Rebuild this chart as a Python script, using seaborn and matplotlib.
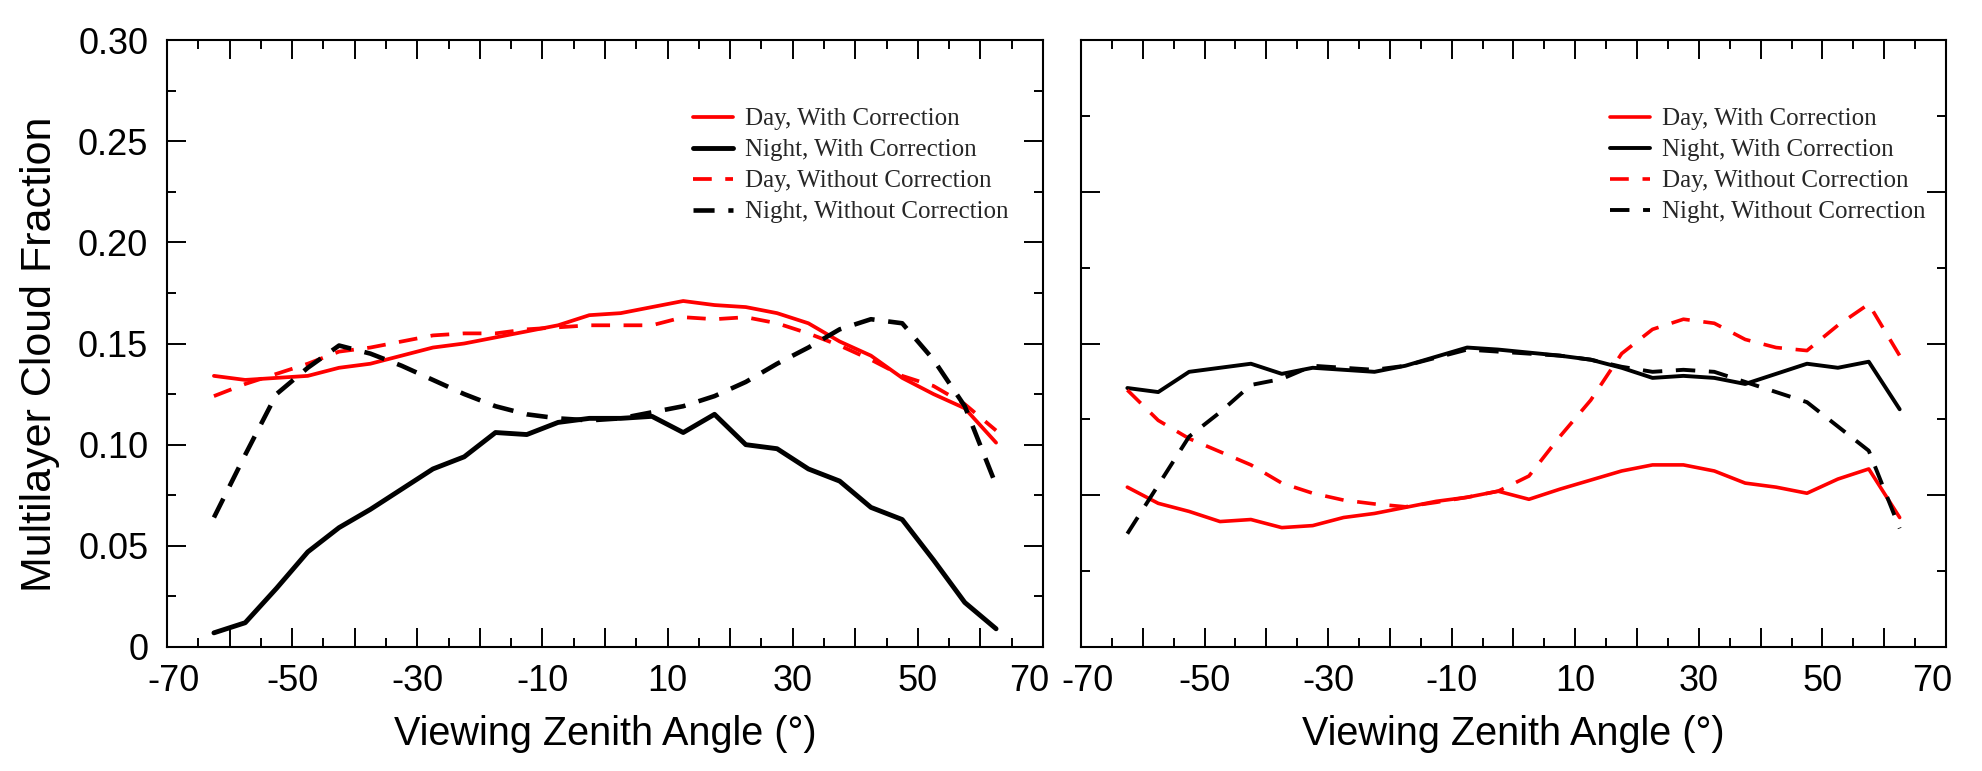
import matplotlib
matplotlib.use("Agg")
import matplotlib.pyplot as plt
import matplotlib.transforms as mtransforms
import numpy as np
import pandas as pd
import seaborn as sns
from matplotlib.ticker import MultipleLocator

sns.set_theme(style="ticks")
plt.rcParams['font.family'] = ['Liberation Sans', 'DejaVu Sans']

# ---------------- data ----------------
vza = [-62.5, -57.5, -52.5, -47.5, -42.5, -37.5, -32.5, -27.5, -22.5, -17.5,
       -12.5, -7.5, -2.5, 2.5, 7.5, 12.5, 17.5, 22.5, 27.5, 32.5,
       37.5, 42.5, 47.5, 52.5, 57.5, 62.5]

series_labels = ["Day, With Correction", "Night, With Correction",
                 "Day, Without Correction", "Night, Without Correction"]

# left panel
left_day_with = [0.134, 0.132, 0.133, 0.134, 0.138, 0.140, 0.144, 0.148, 0.150, 0.153,
                 0.156, 0.159, 0.164, 0.165, 0.168, 0.171, 0.169, 0.168, 0.165, 0.160,
                 0.151, 0.144, 0.133, 0.125, 0.118, 0.101]
left_night_with = [0.007, 0.012, 0.029, 0.047, 0.059, 0.068, 0.078, 0.088, 0.094, 0.106,
                   0.105, 0.111, 0.113, 0.113, 0.114, 0.106, 0.115, 0.100, 0.098, 0.088,
                   0.082, 0.069, 0.063, 0.043, 0.022, 0.009]
left_day_without = [0.124, 0.130, 0.135, 0.140, 0.146, 0.148, 0.151, 0.154, 0.155, 0.155,
                    0.157, 0.158, 0.159, 0.159, 0.159, 0.163, 0.162, 0.163, 0.160, 0.155,
                    0.149, 0.142, 0.134, 0.129, 0.120, 0.107]
left_night_without = [0.064, 0.095, 0.125, 0.138, 0.149, 0.145, 0.139, 0.132, 0.125, 0.119,
                      0.115, 0.113, 0.112, 0.113, 0.116, 0.119, 0.124, 0.131, 0.140, 0.148,
                      0.157, 0.162, 0.160, 0.142, 0.119, 0.080]

# right panel
right_day_with = [0.079, 0.071, 0.067, 0.062, 0.063, 0.059, 0.060, 0.064, 0.066, 0.069,
                  0.072, 0.074, 0.077, 0.073, 0.078, 0.0825, 0.087, 0.090, 0.090, 0.087,
                  0.081, 0.079, 0.076, 0.083, 0.088, 0.064]
right_night_with = [0.128, 0.126, 0.136, 0.138, 0.140, 0.135, 0.138, 0.137, 0.136, 0.139,
                    0.1435, 0.148, 0.147, 0.1455, 0.144, 0.142, 0.138, 0.133, 0.134, 0.133,
                    0.130, 0.135, 0.140, 0.138, 0.141, 0.1175]
right_day_without = [0.127, 0.112, 0.103, 0.0965, 0.090, 0.081, 0.076, 0.0726, 0.0707, 0.0693,
                     0.0715, 0.074, 0.077, 0.0845, 0.104, 0.122, 0.145, 0.157, 0.162, 0.160,
                     0.152, 0.148, 0.1465, 0.159, 0.1695, 0.144]
right_night_without = [0.056, 0.080, 0.104, 0.116, 0.1295, 0.1325, 0.139, 0.138, 0.137, 0.139,
                       0.143, 0.147, 0.146, 0.145, 0.144, 0.142, 0.1385, 0.136, 0.137, 0.136,
                       0.131, 0.126, 0.121, 0.109, 0.097, 0.0586]

xtick_values = [-70, -60, -50, -40, -30, -20, -10, 0, 10, 20, 30, 40, 50, 60, 70]
xtick_labels = ["-70", "", "-50", "", "-30", "", "-10", "", "10", "", "30", "", "50", "", "70"]
ytick_values_left = [0, 0.05, 0.10, 0.15, 0.20, 0.25, 0.30]
ytick_labels_left = ["0", "0.05", "0.10", "0.15", "0.20", "0.25", "0.30"]
ytick_values_right = [0, 0.075, 0.15, 0.225, 0.30]

x_label = "Viewing Zenith Angle (°)"
y_label = "Multilayer Cloud Fraction"

# ---------------- styles ----------------
colors = ["#ff0000", "#000000", "#ff0000", "#000000"]
styles_left = [("-", 2.7), ("-", 3.5), ((0, (5.0, 3.6)), 2.7), ((0, (4.6, 3.0)), 3.3)]
styles_right = [("-", 2.6), ("-", 2.8), ((0, (5.2, 3.8)), 2.6), ((0, (5.0, 3.5)), 2.8)]

W, H = 1983, 771
fig = plt.figure(figsize=(W / 100, H / 100), dpi=100)
axL = fig.add_axes([167 / W, 124 / H, 876 / W, 607 / H])
axR = fig.add_axes([1081 / W, 124 / H, 865 / W, 607 / H])

panels = [
    (axL, [left_day_with, left_night_with, left_day_without, left_night_without], styles_left, 0.600),
    (axR, [right_day_with, right_night_with, right_day_without, right_night_without], styles_right, 0.611),
]

for ax, data, styles, legx in panels:
    for vals, lab, col, (ls, lw) in zip(data, series_labels, colors, styles):
        df = pd.DataFrame({"vza": vza, "frac": vals})
        sns.lineplot(data=df, x="vza", y="frac", ax=ax, color=col, linestyle=ls,
                     linewidth=lw, label=lab, sort=False)
    ax.set_xlim(-70, 70)
    ax.set_ylim(0, 0.30)
    ax.set_xticks(xtick_values)
    ax.set_xticklabels(xtick_labels)
    ax.xaxis.set_minor_locator(MultipleLocator(5))
    ax.tick_params(which="both", direction="in", top=True, right=True,
                   width=1.4, color="black")
    ax.tick_params(which="major", length=13.5, labelsize=26, pad=12, labelcolor="black")
    ax.tick_params(axis="y", which="major", pad=13.5)
    ax.tick_params(which="minor", length=6.5)
    for sp in ax.spines.values():
        sp.set_linewidth(1.5)
        sp.set_color("black")
    ax.set_xlabel(x_label, fontsize=28.5, labelpad=12, color="black")
    ax.set_ylabel("")
    ax.set_facecolor("white")
    ax.legend(loc="upper left", bbox_to_anchor=(legx, 0.888), frameon=False,
              prop={"family": "Liberation Serif", "size": 18},
              handlelength=1.6, handletextpad=0.5, labelspacing=0.34,
              borderaxespad=0, borderpad=0)
    # nudge edge tick labels inward like the reference
    labels = ax.get_xticklabels()
    off_first = mtransforms.ScaledTranslation(4.5 / 72, 0, fig.dpi_scale_trans)
    off_last = mtransforms.ScaledTranslation(-10 / 72, 0, fig.dpi_scale_trans)
    labels[0].set_transform(labels[0].get_transform() + off_first)
    labels[-1].set_transform(labels[-1].get_transform() + off_last)

axL.set_yticks(ytick_values_left)
axL.set_yticklabels(ytick_labels_left)
axL.yaxis.set_minor_locator(MultipleLocator(0.025))
axL.set_ylabel(y_label, fontsize=31, color="black")
axL.yaxis.set_label_coords(-0.122, 0.482)

axR.set_yticks(ytick_values_right)
axR.set_yticklabels([""] * len(ytick_values_right))
axR.yaxis.set_minor_locator(MultipleLocator(0.0375))

fig.savefig("out.png", dpi=100, facecolor="white")
